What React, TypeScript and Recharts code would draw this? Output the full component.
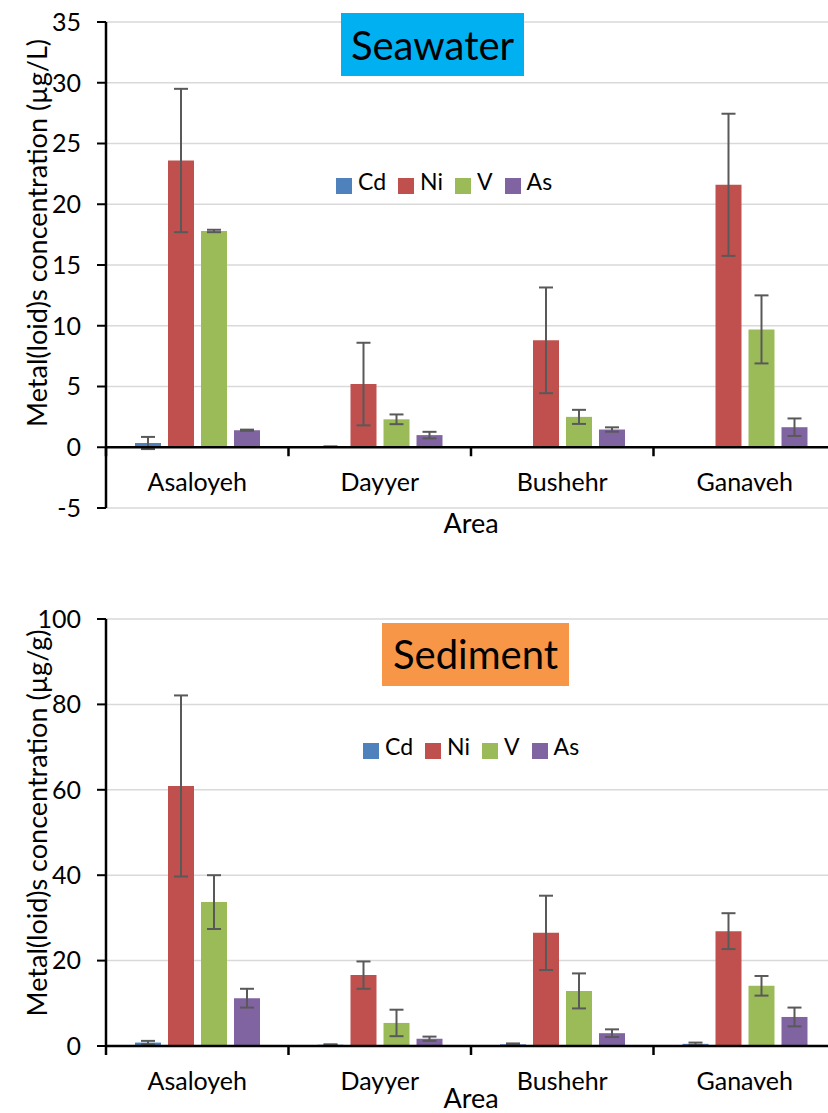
import {
  Bar,
  BarChart,
  CartesianGrid,
  ErrorBar,
  Legend,
  ReferenceLine,
  XAxis,
  YAxis,
} from "recharts";

const AREAS = ["Asaloyeh", "Dayyer", "Bushehr", "Ganaveh"];
const METALS = ["Cd", "Ni", "V", "As"];
const METAL_COLORS = ["#4F81BD", "#C0504D", "#9BBB59", "#8064A2"];

// seawater, µg/L (mean and SD per area)
const SEA_CD = [0.35, 0.05, 0.02, 0.02];
const SEA_CD_SD = [0.5, 0.02, 0, 0];
const SEA_NI = [23.6, 5.2, 8.8, 21.6];
const SEA_NI_SD = [5.9, 3.4, 4.35, 5.85];
const SEA_V = [17.8, 2.3, 2.5, 9.7];
const SEA_V_SD = [0.1, 0.4, 0.58, 2.8];
const SEA_AS = [1.4, 1.0, 1.46, 1.65];
const SEA_AS_SD = [0.05, 0.27, 0.18, 0.72];
const SEA_TICKS = [-5, 0, 5, 10, 15, 20, 25, 30, 35];

// sediment, µg/g
const SED_CD = [0.8, 0.3, 0.4, 0.5];
const SED_CD_SD = [0.4, 0.1, 0.2, 0.3];
const SED_NI = [60.9, 16.6, 26.5, 26.9];
const SED_NI_SD = [21.2, 3.2, 8.7, 4.2];
const SED_V = [33.7, 5.4, 12.9, 14.1];
const SED_V_SD = [6.3, 3.1, 4.1, 2.3];
const SED_AS = [11.2, 1.7, 3.0, 6.8];
const SED_AS_SD = [2.2, 0.5, 0.9, 2.2];
const SED_TICKS = [0, 20, 40, 60, 80, 100];

const CHART_W = 836;
const AXIS_W = 106;
const BAND = (CHART_W - AXIS_W) / AREAS.length;

function buildRows(values: number[][], errors: number[][]) {
  return AREAS.map((area, i) => {
    const row: Record<string, string | number> = { area };
    METALS.forEach((m, j) => {
      row[m] = values[j][i];
      row[m + "Err"] = errors[j][i];
    });
    return row;
  });
}

const seawaterRows = buildRows(
  [SEA_CD, SEA_NI, SEA_V, SEA_AS],
  [SEA_CD_SD, SEA_NI_SD, SEA_V_SD, SEA_AS_SD]
);
const sedimentRows = buildRows(
  [SED_CD, SED_NI, SED_V, SED_AS],
  [SED_CD_SD, SED_NI_SD, SED_V_SD, SED_AS_SD]
);

function areaTick(lift: number) {
  return (props: any) => {
    const { x, y, payload, index } = props;
    const zy = y - lift;
    const half = BAND / 2;
    return (
      <g>
        <line x1={x - half} x2={x - half} y1={zy} y2={zy + 9} stroke="#000" strokeWidth={2.5} />
        {index === AREAS.length - 1 && (
          <line x1={x + half} x2={x + half} y1={zy} y2={zy + 9} stroke="#000" strokeWidth={2.5} />
        )}
        <text x={x} y={zy + 44} textAnchor="middle" fontSize={25} fill="#000">
          {payload.value}
        </text>
      </g>
    );
  };
}

function legendText(value: string) {
  return (
    <span style={{ color: "#000", fontSize: 23, marginLeft: 2, marginRight: 2 }}>{value}</span>
  );
}

const legendOrder = (item: any) => METALS.indexOf(item.value);

function renderBars() {
  return METALS.map((m, i) => (
    <Bar key={m} dataKey={m} fill={METAL_COLORS[i]} isAnimationActive={false}>
      <ErrorBar dataKey={m + "Err"} width={7} stroke="#595959" strokeWidth={2} />
    </Bar>
  ));
}

export default function App() {
  const seaZeroLift = ((0 - -5) / 40) * 486;
  return (
    <div
      style={{
        position: "absolute",
        left: 0,
        top: 0,
        width: 828,
        height: 1113,
        overflow: "hidden",
        background: "#fff",
        fontFamily: "Lato, 'Open Sans', sans-serif",
      }}
    >
      <div style={{ position: "absolute", left: 0, top: 0 }}>
        <BarChart
          width={CHART_W}
          height={540}
          data={seawaterRows}
          margin={{ top: 22, right: 0, left: 0, bottom: 0 }}
          barSize={26}
          barGap={7}
        >
          <CartesianGrid vertical={false} stroke="#d9d9d9" strokeWidth={1.5} />
          <XAxis
            dataKey="area"
            height={32}
            axisLine={false}
            tickLine={false}
            tickSize={0}
            tickMargin={0}
            interval={0}
            tick={areaTick(seaZeroLift)}
          />
          <YAxis
            type="number"
            width={AXIS_W}
            domain={[-5, 35]}
            ticks={SEA_TICKS}
            interval={0}
            axisLine={{ stroke: "#000", strokeWidth: 2.5 }}
            tickLine={{ stroke: "#000", strokeWidth: 2 }}
            tickSize={9}
            tickMargin={16}
            tick={{ fill: "#000", fontSize: 25 }}
          />
          <Legend
            layout="horizontal"
            align="center"
            verticalAlign="middle"
            iconType="square"
            iconSize={16}
            itemSorter={legendOrder}
            formatter={legendText}
            wrapperStyle={{ left: 336, top: 167, width: "auto", height: "auto" }}
          />
          {renderBars()}
          <ReferenceLine y={0} stroke="#000" strokeWidth={2.5} />
          <rect x={341} y={13} width={183} height={63} fill="#00B0F0" />
          <text x={432.5} y={60} textAnchor="middle" fontSize={40} fill="#000">
            Seawater
          </text>
          <text transform="translate(47, 233) rotate(-90)" textAnchor="middle" fontSize={27} fill="#000">
            Metal(loid)s concentration (µg/L)
          </text>
          <text x={471} y={533} textAnchor="middle" fontSize={27} fill="#000">
            Area
          </text>
        </BarChart>
      </div>
      <div style={{ position: "absolute", left: 0, top: 560 }}>
        <BarChart
          width={CHART_W}
          height={553}
          data={sedimentRows}
          margin={{ top: 59, right: 0, left: 0, bottom: 0 }}
          barSize={26}
          barGap={7}
        >
          <CartesianGrid vertical={false} stroke="#d9d9d9" strokeWidth={1.5} />
          <XAxis
            dataKey="area"
            height={67}
            axisLine={{ stroke: "#000", strokeWidth: 2.5 }}
            tickLine={false}
            tickSize={0}
            tickMargin={0}
            interval={0}
            tick={areaTick(0)}
          />
          <YAxis
            type="number"
            width={AXIS_W}
            domain={[0, 100]}
            ticks={SED_TICKS}
            interval={0}
            axisLine={{ stroke: "#000", strokeWidth: 2.5 }}
            tickLine={{ stroke: "#000", strokeWidth: 2 }}
            tickSize={9}
            tickMargin={16}
            tick={{ fill: "#000", fontSize: 25 }}
          />
          <Legend
            layout="horizontal"
            align="center"
            verticalAlign="middle"
            iconType="square"
            iconSize={16}
            itemSorter={legendOrder}
            formatter={legendText}
            wrapperStyle={{ left: 363, top: 172, width: "auto", height: "auto" }}
          />
          {renderBars()}
          <rect x={382} y={63} width={187} height={63} fill="#F79646" />
          <text x={475.5} y={109} textAnchor="middle" fontSize={40} fill="#000">
            Sediment
          </text>
          <text transform="translate(47, 263) rotate(-90)" textAnchor="middle" fontSize={27} fill="#000">
            Metal(loid)s concentration (µg/g)
          </text>
          <text x={471} y={548} textAnchor="middle" fontSize={27} fill="#000">
            Area
          </text>
        </BarChart>
      </div>
    </div>
  );
}
